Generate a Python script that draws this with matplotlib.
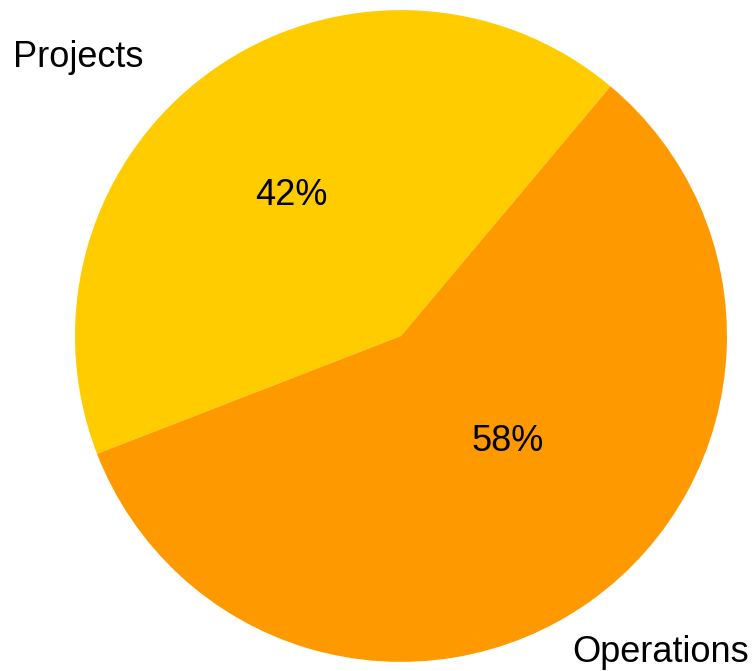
import matplotlib
matplotlib.use("Agg")
import matplotlib.pyplot as plt

# pie data
labels = ['Projects', 'Operations']
shares = [42, 58]
colors = ['#FFCC00', '#FF9900']
pct_text = ['42%', '58%']

plt.rcParams['font.family'] = ['Liberation Sans', 'DejaVu Sans']

fig = plt.figure(figsize=(7.55, 6.71), dpi=100)
ax = fig.add_axes([0, 0, 1, 1])

ax.pie(shares, colors=colors, startangle=50, counterclock=True,
       radius=1.0, wedgeprops=dict(linewidth=0))

# label placement (data coords, radius = 1)
ax.text(-1.19, 0.825, labels[0], fontsize=26, ha='left', va='baseline')
ax.text(0.525, -1.0, labels[1], fontsize=26, ha='left', va='baseline')
ax.text(-0.337, 0.402, pct_text[0], fontsize=26, ha='center', va='baseline')
ax.text(0.328, -0.353, pct_text[1], fontsize=26, ha='center', va='baseline')

ax.set_xlim(-1.230, 1.086)
ax.set_ylim(-1.028, 1.031)
ax.set_aspect('auto')
ax.axis('off')

fig.savefig('out.png', dpi=100)
